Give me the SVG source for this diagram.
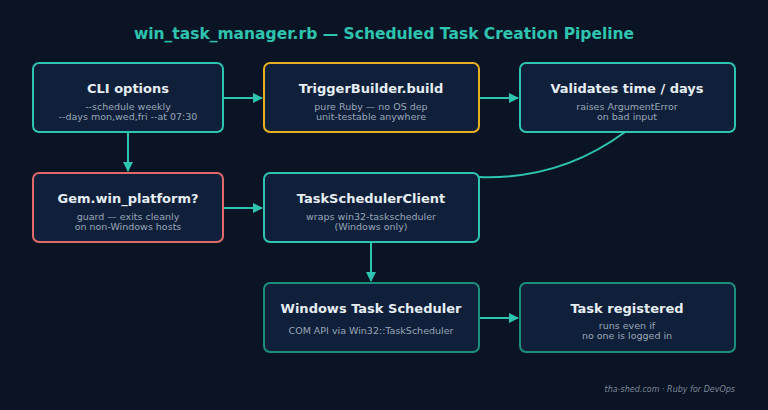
<svg xmlns="http://www.w3.org/2000/svg" width="768" height="410" viewBox="0 0 768 410">
<style>
.box{fill:#10203a;stroke-width:2}
.t{font-family:"DejaVu Sans",sans-serif;font-weight:bold;font-size:13px;fill:#e6edf3;text-anchor:middle}
.s{font-family:"DejaVu Sans",sans-serif;font-size:9.5px;fill:#9aa7b8;text-anchor:middle}
.c{fill:none;stroke:#2ec4b0;stroke-width:2}
</style>
<defs><marker id="a" viewBox="0 0 10 10" refX="9" refY="5" markerWidth="5" markerHeight="5" orient="auto"><path d="M0,0L10,5L0,10z" fill="#2ec4b0"/></marker></defs>
<rect width="768" height="410" fill="#0b1424"/>
<text x="384" y="39" font-family="DejaVu Sans,sans-serif" font-weight="bold" font-size="15.5" fill="#2ec4b0" text-anchor="middle">win_task_manager.rb — Scheduled Task Creation Pipeline</text>
<g id="connectors">
<path class="c" d="M223,98H262" marker-end="url(#a)"/>
<path class="c" d="M479,98H518" marker-end="url(#a)"/>
<path class="c" d="M128,132V171" marker-end="url(#a)"/>
<path class="c" d="M223,208H262" marker-end="url(#a)"/>
<path class="c" d="M625,132Q560,180 479,177"/>
<path class="c" d="M371,242V281" marker-end="url(#a)"/>
<path class="c" d="M479,318H518" marker-end="url(#a)"/>
</g>
<g id="cli"><rect class="box" x="33" y="63" width="190" height="69" rx="6" stroke="#2ec4b0"/><text class="t" x="128" y="93">CLI options</text><text class="s" x="128" y="110">--schedule weekly</text><text class="s" x="128" y="120">--days mon,wed,fri --at 07:30</text></g>
<g id="trigger"><rect class="box" x="264" y="63" width="215" height="69" rx="6" stroke="#e6b020"/><text class="t" x="371" y="93">TriggerBuilder.build</text><text class="s" x="371" y="110">pure Ruby — no OS dep</text><text class="s" x="371" y="120">unit-testable anywhere</text></g>
<g id="validates"><rect class="box" x="520" y="63" width="215" height="69" rx="6" stroke="#2ec4b0"/><text class="t" x="627" y="93">Validates time / days</text><text class="s" x="627" y="110">raises ArgumentError</text><text class="s" x="627" y="120">on bad input</text></g>
<g id="gem"><rect class="box" x="33" y="173" width="190" height="69" rx="6" stroke="#e06a6a"/><text class="t" x="128" y="203">Gem.win_platform?</text><text class="s" x="128" y="220">guard — exits cleanly</text><text class="s" x="128" y="230">on non-Windows hosts</text></g>
<g id="client"><rect class="box" x="264" y="173" width="215" height="69" rx="6" stroke="#2ec4b0"/><text class="t" x="371" y="203">TaskSchedulerClient</text><text class="s" x="371" y="220">wraps win32-taskscheduler</text><text class="s" x="371" y="230">(Windows only)</text></g>
<g id="wts"><rect class="box" x="264" y="283" width="215" height="69" rx="6" stroke="#1a8f7c"/><text class="t" x="371" y="313">Windows Task Scheduler</text><text class="s" x="371" y="334">COM API via Win32::TaskScheduler</text></g>
<g id="registered"><rect class="box" x="520" y="283" width="215" height="69" rx="6" stroke="#1a8f7c"/><text class="t" x="627" y="313">Task registered</text><text class="s" x="627" y="329">runs even if</text><text class="s" x="627" y="339">no one is logged in</text></g>
<text x="735" y="392" font-family="DejaVu Sans,sans-serif" font-style="italic" font-size="8" fill="#7d8797" text-anchor="end">tha-shed.com  ·  Ruby for DevOps</text>
</svg>
